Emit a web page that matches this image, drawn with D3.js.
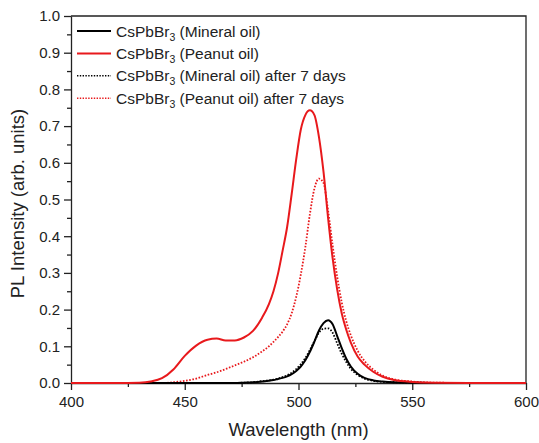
<!DOCTYPE html>
<html>
<head>
<meta charset="utf-8">
<script src="https://cdn.jsdelivr.net/npm/d3@7"></script>
<style>
  body { margin: 0; background: #fff; }
  svg text { font-family: "Liberation Sans", Arial, sans-serif; fill: #222; }
  .axis path, .axis line { stroke: #222; stroke-width: 1.3; }
  .axis text { font-size: 15px; }
</style>
</head>
<body>
<div id="chart"></div>
<script>
// wavelength grid (nm)
const wavelength = [400, 420, 430, 435, 440, 445, 450, 455, 460, 464, 468, 472, 476, 480, 484, 487, 489, 491, 493, 495,
    497, 499, 501, 503, 505, 507, 509, 511, 513, 515, 517, 519, 521, 523, 526, 529, 533, 537, 542, 550, 560, 580, 600];

const mineralOil = [0, 0, 0, 0, 0, 0, 0, 0, 0, 0, 0, 0, 0.001, 0.002, 0.004, 0.006, 0.008, 0.011, 0.014, 0.018,
    0.024, 0.033, 0.045, 0.062, 0.085, 0.113, 0.143, 0.163, 0.171, 0.16, 0.128, 0.095, 0.066, 0.045, 0.025, 0.014, 0.007, 0.004, 0.002, 0.001, 0, 0, 0];

const peanutOil = [0, 0, 0.001, 0.004, 0.013, 0.037, 0.074, 0.102, 0.118, 0.121, 0.116, 0.116, 0.124, 0.142, 0.178, 0.215, 0.25, 0.298, 0.36, 0.425,
    0.515, 0.61, 0.69, 0.73, 0.743, 0.73, 0.67, 0.575, 0.45, 0.34, 0.255, 0.19, 0.145, 0.11, 0.072, 0.05, 0.03, 0.017, 0.008, 0.003, 0.001, 0, 0];

const mineralOil7d = [0, 0, 0, 0, 0, 0, 0, 0, 0, 0, 0, 0, 0.001, 0.002, 0.005, 0.007, 0.009, 0.012, 0.016, 0.021,
    0.028, 0.038, 0.051, 0.068, 0.09, 0.114, 0.137, 0.148, 0.149, 0.137, 0.108, 0.08, 0.057, 0.039, 0.022, 0.012, 0.006, 0.003, 0.002, 0.001, 0, 0, 0];

const peanutOil7d = [0, 0, 0, 0, 0, 0.002, 0.006, 0.012, 0.022, 0.029, 0.038, 0.048, 0.058, 0.07, 0.086, 0.1, 0.112, 0.125, 0.14, 0.16,
    0.19, 0.235, 0.295, 0.37, 0.46, 0.53, 0.557, 0.545, 0.47, 0.375, 0.29, 0.22, 0.168, 0.13, 0.088, 0.06, 0.036, 0.02, 0.01, 0.004, 0.001, 0, 0];

const seriesNames = ["(Mineral oil)", "(Peanut oil)", "(Mineral oil) after 7 days", "(Peanut oil) after 7 days"];
const seriesValues = [mineralOil, peanutOil, mineralOil7d, peanutOil7d];
const seriesColors = ["#000000", "#e8191c", "#000000", "#e8191c"];
const seriesDotted = [false, false, true, true];

const xTicks = [400, 450, 500, 550, 600];
const yTicks = [0, 0.1, 0.2, 0.3, 0.4, 0.5, 0.6, 0.7, 0.8, 0.9, 1.0];

const W = 539, H = 443;
const margin = { top: 16, right: 13, bottom: 60, left: 71 };
const width = W - margin.left - margin.right;
const height = H - margin.top - margin.bottom;

const svg = d3.select("#chart").append("svg")
    .attr("width", W)
    .attr("height", H);

const plot = svg.append("g")
    .attr("transform", `translate(${margin.left},${margin.top})`);

const xScale = d3.scaleLinear().domain([400, 600]).range([0, width]);
const yScale = d3.scaleLinear().domain([0, 1]).range([height, 0]);

// minor ticks
const xMinor = d3.range(425, 600, 50);
const yMinor = d3.range(0.05, 1, 0.1);

plot.append("g")
    .attr("class", "axis")
    .attr("transform", `translate(0,${height})`)
    .call(d3.axisBottom(xScale).tickValues(xMinor).tickSize(4).tickFormat(""))
    .select(".domain").remove();

plot.append("g")
    .attr("class", "axis")
    .call(d3.axisLeft(yScale).tickValues(yMinor).tickSize(4).tickFormat(""))
    .select(".domain").remove();

plot.append("g")
    .attr("class", "axis x-axis")
    .attr("transform", `translate(0,${height})`)
    .call(d3.axisBottom(xScale).tickValues(xTicks).tickSize(7).tickSizeOuter(0).tickPadding(6).tickFormat(d3.format("d")));

plot.append("g")
    .attr("class", "axis y-axis")
    .call(d3.axisLeft(yScale).tickValues(yTicks).tickSize(7).tickSizeOuter(0).tickPadding(4).tickFormat(d3.format(".1f")));

// top and right frame
plot.append("path")
    .attr("d", `M0,0H${width}V${height}`)
    .attr("fill", "none")
    .attr("stroke", "#222")
    .attr("stroke-width", 1.3);

const line = d3.line()
    .curve(d3.curveMonotoneX)
    .x((d, i) => xScale(wavelength[i]))
    .y(d => yScale(d));

const order = [3, 2, 0, 1];
order.forEach(k => {
    plot.append("path")
        .attr("d", line(seriesValues[k]))
        .attr("fill", "none")
        .attr("stroke", seriesColors[k])
        .attr("stroke-width", seriesDotted[k] ? 1.8 : 2)
        .attr("stroke-dasharray", seriesDotted[k] ? "1.6,1.6" : null);
});

// legend
const legend = plot.append("g").attr("transform", "translate(6,15)");
seriesNames.forEach((name, i) => {
    const g = legend.append("g").attr("transform", `translate(0,${i * 22.4})`);
    g.append("line")
        .attr("x1", 0).attr("x2", 34)
        .attr("y1", 0).attr("y2", 0)
        .attr("stroke", seriesColors[i])
        .attr("stroke-width", seriesDotted[i] ? 1.4 : 2)
        .attr("stroke-dasharray", seriesDotted[i] ? "1.4,1.4" : null);
    const t = g.append("text")
        .attr("x", 39).attr("y", 5.5)
        .style("font-size", "15.5px");
    t.append("tspan").text("CsPbBr");
    t.append("tspan").attr("dy", 4).style("font-size", "10.5px").text("3");
    t.append("tspan").attr("dy", -4).text(" " + name);
});

// axis labels
svg.append("text")
    .attr("x", margin.left + width / 2)
    .attr("y", 436)
    .attr("text-anchor", "middle")
    .style("font-size", "18.5px")
    .text("Wavelength (nm)");

svg.append("text")
    .attr("transform", `translate(24,${margin.top + height / 2 + 4}) rotate(-90)`)
    .attr("text-anchor", "middle")
    .style("font-size", "18.5px")
    .text("PL Intensity (arb. units)");
</script>
</body>
</html>
